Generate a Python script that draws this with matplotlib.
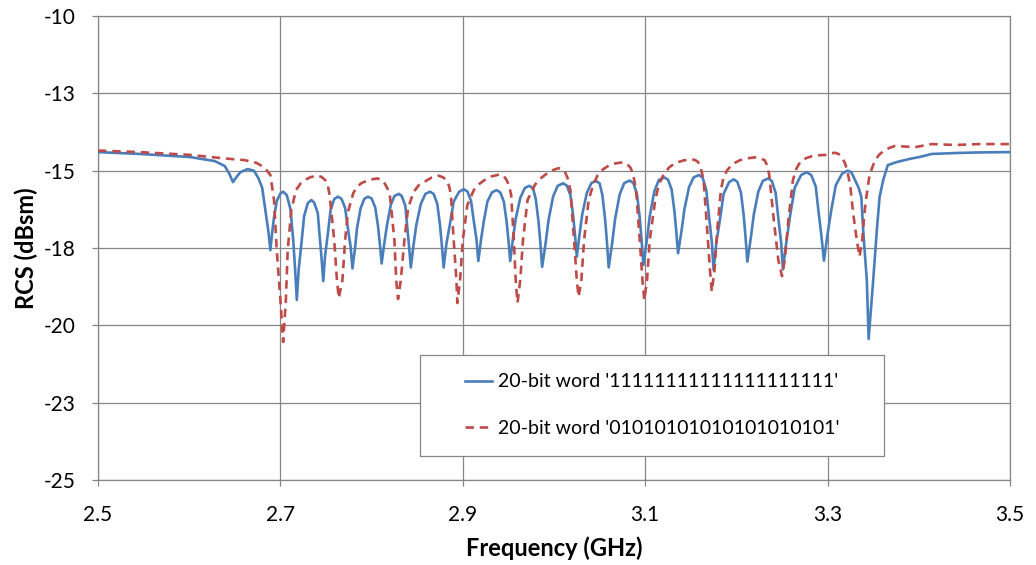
import matplotlib
matplotlib.use("Agg")
import matplotlib.pyplot as plt
from matplotlib.patches import Rectangle
from matplotlib.ticker import FixedLocator, FixedFormatter

plt.rcParams["font.family"] = ["Lato", "DejaVu Sans"]

# (frequency GHz, RCS dBsm), all-ones word
ones_points = [
    (2.500, -14.40), (2.546, -14.46), (2.601, -14.56), (2.628, -14.69),
    (2.639, -14.85), (2.644, -15.10), (2.648, -15.37), (2.652, -15.20),
    (2.656, -15.05), (2.664, -14.95), (2.671, -15.00), (2.676, -15.25),
    (2.680, -15.55), (2.683, -16.17), (2.687, -17.00), (2.689, -17.57),
    (2.691, -17.00), (2.693, -16.51), (2.696, -15.98), (2.700, -15.74),
    (2.703, -15.68),
    (2.707, -15.79), (2.711, -16.24), (2.714, -17.22), (2.716, -18.13),
    (2.718, -19.18),
    (2.720, -18.21), (2.723, -17.37), (2.726, -16.47), (2.730, -16.05),
    (2.734, -15.95),
    (2.737, -16.03), (2.741, -16.37), (2.743, -17.10), (2.745, -17.78),
    (2.747, -18.57),
    (2.749, -17.75), (2.752, -17.04), (2.755, -16.28), (2.759, -15.92),
    (2.763, -15.84),
    (2.767, -15.91), (2.771, -16.21), (2.774, -16.86), (2.777, -17.46),
    (2.779, -18.16),
    (2.782, -17.46), (2.784, -16.86), (2.788, -16.21), (2.792, -15.91),
    (2.796, -15.84),
    (2.800, -15.90), (2.804, -16.19), (2.807, -16.79), (2.809, -17.35),
    (2.811, -18.00),
    (2.814, -17.33), (2.817, -16.74), (2.821, -16.11), (2.825, -15.82),
    (2.830, -15.75),
    (2.833, -15.82), (2.837, -16.13), (2.839, -16.80), (2.841, -17.42),
    (2.843, -18.13),
    (2.846, -17.40), (2.849, -16.76), (2.854, -16.07), (2.859, -15.75),
    (2.864, -15.68),
    (2.868, -15.75), (2.872, -16.07), (2.875, -16.76), (2.877, -17.40),
    (2.879, -18.13),
    (2.882, -17.37), (2.886, -16.71), (2.890, -16.00), (2.896, -15.68),
    (2.901, -15.60),
    (2.905, -15.67), (2.909, -15.97), (2.912, -16.62), (2.915, -17.22),
    (2.917, -17.92),
    (2.920, -17.23), (2.923, -16.64), (2.927, -16.00), (2.932, -15.70),
    (2.937, -15.63),
    (2.941, -15.70), (2.945, -16.00), (2.948, -16.64), (2.950, -17.23),
    (2.952, -17.92),
    (2.955, -17.19), (2.958, -16.56), (2.963, -15.88), (2.968, -15.56),
    (2.973, -15.49),
    (2.977, -15.57), (2.980, -15.91), (2.983, -16.64), (2.985, -17.32),
    (2.987, -18.11),
    (2.991, -17.30), (2.994, -16.60), (2.999, -15.84), (3.004, -15.49),
    (3.010, -15.41),
    (3.014, -15.48), (3.018, -15.79), (3.021, -16.45), (3.023, -17.07),
    (3.025, -17.78),
    (3.028, -17.05), (3.031, -16.41), (3.036, -15.72), (3.041, -15.40),
    (3.046, -15.33),
    (3.050, -15.41), (3.053, -15.78), (3.056, -16.56), (3.058, -17.29),
    (3.060, -18.13),
    (3.064, -17.29), (3.067, -16.56), (3.072, -15.77), (3.077, -15.40),
    (3.083, -15.32),
    (3.087, -15.40), (3.091, -15.76), (3.094, -16.52), (3.096, -17.23),
    (3.098, -18.05),
    (3.102, -17.20), (3.105, -16.47), (3.110, -15.67), (3.115, -15.30),
    (3.121, -15.22),
    (3.125, -15.29), (3.129, -15.61), (3.132, -16.30), (3.134, -16.94),
    (3.136, -17.67),
    (3.140, -16.91), (3.143, -16.25), (3.148, -15.54), (3.153, -15.22),
    (3.159, -15.14),
    (3.163, -15.23), (3.167, -15.63), (3.170, -16.49), (3.173, -17.29),
    (3.175, -18.21),
    (3.178, -17.33), (3.182, -16.57), (3.186, -15.75), (3.192, -15.37),
    (3.197, -15.28),
    (3.201, -15.36), (3.205, -15.71), (3.208, -16.45), (3.210, -17.14),
    (3.212, -17.94),
    (3.216, -17.13), (3.219, -16.43), (3.224, -15.68), (3.229, -15.33),
    (3.235, -15.25),
    (3.239, -15.34), (3.243, -15.72), (3.246, -16.54), (3.249, -17.31),
    (3.251, -18.19),
    (3.255, -17.25), (3.259, -16.43), (3.264, -15.55), (3.271, -15.14),
    (3.277, -15.05),
    (3.282, -15.14), (3.287, -15.51), (3.290, -16.31), (3.293, -17.05),
    (3.296, -17.91),
    (3.300, -17.04), (3.304, -16.28), (3.309, -15.47), (3.316, -15.09),
    (3.322, -15.00),
    (3.326, -15.05), (3.330, -15.30), (3.334, -15.55), (3.337, -15.85),
    (3.339, -16.92), (3.343, -18.54), (3.345, -20.44), (3.350, -18.54),
    (3.354, -16.92), (3.357, -15.85), (3.361, -15.30), (3.366, -14.82),
    (3.376, -14.72), (3.390, -14.62), (3.402, -14.55), (3.414, -14.46),
    (3.440, -14.43), (3.467, -14.41), (3.500, -14.40),
]

# alternating word '0101...'
alt_points = [
    (2.500, -14.35), (2.546, -14.40), (2.601, -14.49), (2.637, -14.60),
    (2.661, -14.66), (2.674, -14.75), (2.683, -14.91), (2.689, -15.14),
    (2.693, -15.95), (2.696, -17.57), (2.700, -19.18), (2.703, -20.54),
    (2.706, -19.18), (2.708, -17.57), (2.712, -16.27), (2.717, -15.63),
    (2.722, -15.42), (2.727, -15.30), (2.733, -15.21), (2.740, -15.16),
    (2.745, -15.20), (2.749, -15.30), (2.752, -15.48), (2.754, -15.79),
    (2.759, -17.24), (2.762, -18.54), (2.764, -19.12), (2.768, -18.54),
    (2.771, -17.24), (2.774, -16.34), (2.780, -15.72), (2.784, -15.52),
    (2.789, -15.40), (2.797, -15.30), (2.806, -15.25), (2.811, -15.29),
    (2.814, -15.40), (2.817, -15.55), (2.820, -15.79), (2.825, -17.24),
    (2.827, -18.54), (2.829, -19.15), (2.832, -18.54), (2.836, -17.24),
    (2.840, -16.21), (2.846, -15.69), (2.852, -15.46), (2.859, -15.34),
    (2.866, -15.22), (2.873, -15.16), (2.878, -15.21), (2.882, -15.30),
    (2.885, -15.50), (2.887, -15.79), (2.890, -17.24), (2.893, -18.54),
    (2.894, -19.28), (2.897, -18.54), (2.900, -17.24), (2.905, -16.11),
    (2.912, -15.63), (2.918, -15.43), (2.924, -15.30), (2.932, -15.18),
    (2.941, -15.12), (2.945, -15.18), (2.948, -15.30), (2.951, -15.50),
    (2.953, -15.79), (2.956, -17.24), (2.958, -18.54), (2.960, -19.27),
    (2.963, -18.54), (2.966, -17.24), (2.971, -15.95), (2.979, -15.46),
    (2.984, -15.28), (2.990, -15.14), (2.997, -15.00), (3.005, -14.92),
    (3.009, -14.95), (3.012, -15.04), (3.015, -15.25), (3.018, -15.63),
    (3.022, -17.24), (3.025, -18.54), (3.027, -19.08), (3.030, -18.54),
    (3.033, -17.24), (3.038, -15.95), (3.043, -15.45), (3.048, -15.14),
    (3.054, -14.95), (3.061, -14.82), (3.068, -14.76), (3.076, -14.73),
    (3.080, -14.78), (3.084, -14.91), (3.087, -15.15), (3.090, -15.63),
    (3.094, -17.24), (3.097, -18.54), (3.099, -19.18), (3.102, -18.54),
    (3.105, -17.24), (3.111, -15.95), (3.115, -15.45), (3.120, -15.14),
    (3.126, -14.90), (3.133, -14.75), (3.142, -14.67), (3.151, -14.63),
    (3.155, -14.66), (3.158, -14.72), (3.161, -14.92), (3.164, -15.30),
    (3.168, -16.92), (3.171, -18.21), (3.173, -18.91), (3.176, -18.21),
    (3.179, -16.92), (3.183, -15.63), (3.186, -15.20), (3.190, -14.98),
    (3.196, -14.78), (3.204, -14.66), (3.212, -14.60), (3.220, -14.57),
    (3.226, -14.60), (3.231, -14.66), (3.234, -14.85), (3.236, -15.14),
    (3.241, -16.60), (3.246, -17.89), (3.250, -18.41), (3.253, -17.89),
    (3.257, -16.60), (3.262, -15.30), (3.266, -14.92), (3.270, -14.72),
    (3.276, -14.60), (3.283, -14.53), (3.291, -14.50), (3.299, -14.49),
    (3.304, -14.44), (3.308, -14.42), (3.312, -14.46), (3.315, -14.55),
    (3.319, -14.75), (3.322, -15.05), (3.325, -15.53), (3.328, -16.37),
    (3.332, -17.24), (3.335, -17.78), (3.338, -17.24), (3.340, -16.50),
    (3.342, -15.95), (3.346, -15.14), (3.352, -14.66), (3.357, -14.47),
    (3.363, -14.33), (3.368, -14.26), (3.374, -14.20), (3.385, -14.22),
    (3.396, -14.24), (3.405, -14.19), (3.414, -14.14), (3.440, -14.17),
    (3.467, -14.14), (3.500, -14.14),
]

label_ones = "20-bit word '11111111111111111111'"
label_alt = "20-bit word '01010101010101010101'"

x_ticks = [2.5, 2.7, 2.9, 3.1, 3.3, 3.5]
y_ticks = [-25, -22.5, -20, -17.5, -15, -12.5, -10]
y_tick_labels = ["-25", "-23", "-20", "-18", "-15", "-13", "-10"]

blue = "#4a7ebb"
red = "#be4b48"
grid_grey = "#868686"

freq_ones, rcs_ones = zip(*ones_points)
freq_alt, rcs_alt = zip(*alt_points)

fig = plt.figure(figsize=(10.36, 5.65), dpi=100)
ax = fig.add_axes([98 / 1036, 1 - 480 / 565, 912 / 1036, 464 / 565])

ax.plot(freq_ones, rcs_ones, color=blue, lw=1.9, label=label_ones, zorder=3,
        solid_joinstyle="round")
ax.plot(freq_alt, rcs_alt, color=red, lw=1.9, ls=(0, (3.2, 2.2)),
        label=label_alt, zorder=4)

ax.set_xlim(2.5, 3.5)
ax.set_ylim(-25, -10)
ax.xaxis.set_major_locator(FixedLocator(x_ticks))
ax.set_xticklabels([f"{v:.1f}" for v in x_ticks])
ax.yaxis.set_major_locator(FixedLocator(y_ticks))
ax.yaxis.set_major_formatter(FixedFormatter(y_tick_labels))

ax.grid(True, color=grid_grey, lw=0.9)
ax.set_axisbelow(True)
for s in ax.spines.values():
    s.set_color(grid_grey)
    s.set_linewidth(0.9)
ax.tick_params(axis="both", direction="out", length=4, width=0.9,
               color=grid_grey, labelsize=15, labelcolor="black")
ax.tick_params(axis="y", pad=12)
ax.tick_params(axis="x", pad=14)

ax.set_xlabel("Frequency (GHz)", fontsize=17, fontweight="bold", labelpad=8)
ax.set_ylabel("RCS (dBsm)", fontsize=17, fontweight="bold", labelpad=4)

# legend frame drawn as in the original
fig.patches.append(Rectangle((420 / 1036, 1 - 456 / 565), 464 / 1036, 101 / 565,
                             transform=fig.transFigure, facecolor="white",
                             edgecolor=grid_grey, lw=0.9, zorder=5))
leg = fig.legend(loc="center", bbox_to_anchor=(652 / 1036, 1 - 405 / 565),
                 frameon=False, fontsize=14, handlelength=1.4, handletextpad=0.3,
                 labelspacing=1.5)
leg.set_zorder(6)

fig.savefig("out.png", dpi=100)
